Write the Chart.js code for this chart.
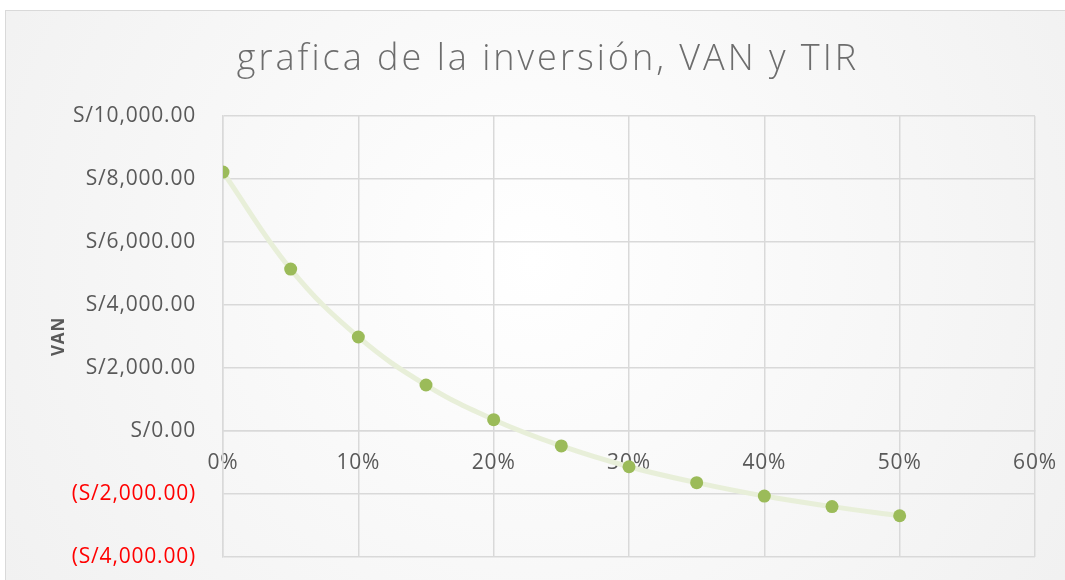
<!DOCTYPE html>
<html>
<head>
<meta charset="utf-8">
<script src="https://cdn.jsdelivr.net/npm/chart.js@4/dist/chart.umd.min.js"></script>
<style>
  html, body { margin: 0; padding: 0; background: #fff; }
  #wrap { width: 1065px; height: 580px; }
</style>
</head>
<body>
<div id="wrap"><canvas id="vanChart" width="1065" height="580"></canvas></div>
<script>
// tasas de descuento y VAN
const tasas = [0, 0.05, 0.10, 0.15, 0.20, 0.25, 0.30, 0.35, 0.40, 0.45, 0.50];
const van = [8220, 5140, 2985, 1460, 360, -475, -1135, -1640, -2065, -2400, -2690];
const yTicks = [-4000, -2000, 0, 2000, 4000, 6000, 8000, 10000];
const xTicks = [0, 0.1, 0.2, 0.3, 0.4, 0.5, 0.6];
const titulo = 'grafica de la inversión, VAN y TIR';

function soles(v) {
    const s = 'S/' + Math.abs(v).toLocaleString('en-US', { minimumFractionDigits: 2, maximumFractionDigits: 2 });
    return v < 0 ? '(' + s + ')' : s;
}

// fondo gris degradado y titulo con espaciado
const fondo = {
    id: 'fondo',
    beforeDraw(chart) {
        const c = chart.ctx;
        const w = chart.width, h = chart.height;
        c.save();
        c.fillStyle = '#fff';
        c.fillRect(0, 0, w, h);
        const g = c.createRadialGradient(w * 0.5, h * 0.45, 0, w * 0.5, h * 0.45, w * 0.62);
        g.addColorStop(0, '#ffffff');
        g.addColorStop(1, '#f0f0f0');
        c.fillStyle = g;
        c.fillRect(5, 10, w - 5, h - 10);
        c.strokeStyle = '#d9d9d9';
        c.lineWidth = 1;
        c.strokeRect(5.5, 10.5, w, h);

        c.font = '300 36px "Open Sans"';
        c.letterSpacing = '3px';
        c.fillStyle = '#6d6d6d';
        c.textAlign = 'center';
        c.textBaseline = 'middle';
        c.fillText(titulo, 548, 60);
        c.restore();
        // un poco de espaciado para las etiquetas de los ejes
        c.letterSpacing = '0.8px';
    }
};

const ctx = document.getElementById('vanChart');
new Chart(ctx, {
    type: 'line',
    data: {
        datasets: [{
            label: 'VAN',
            data: tasas.map((t, i) => ({ x: t, y: van[i] })),
            borderColor: '#e8efd9',
            borderWidth: 5,
            tension: 0.4,
            pointRadius: 6.5,
            pointBackgroundColor: '#9bbb59',
            pointBorderColor: '#9bbb59',
            pointBorderWidth: 0,
            fill: false
        }]
    },
    options: {
        responsive: false,
        animation: false,
        layout: { padding: { left: 49, right: 30, top: 116, bottom: 23 } },
        scales: {
            x: {
                type: 'linear',
                min: 0,
                max: 0.6,
                position: { y: 0 },
                afterBuildTicks: axis => { axis.ticks = xTicks.map(v => ({ value: v })); },
                afterFit: axis => {
                    axis.height = 0;
                    axis.paddingLeft = axis.paddingRight = axis.paddingTop = axis.paddingBottom = 0;
                },
                ticks: {
                    callback: v => Math.round(v * 100) + '%',
                    color: '#595959',
                    font: { family: 'Open Sans', size: 21 },
                    padding: 19,
                    maxRotation: 0
                },
                grid: { color: '#d9d9d9', lineWidth: 1.5, tickLength: 0 },
                border: { color: '#d9d9d9', width: 1.5 }
            },
            y: {
                min: -4000,
                max: 10000,
                afterBuildTicks: axis => { axis.ticks = yTicks.map(v => ({ value: v })); },
                afterFit: axis => {
                    axis.width = 174;
                    axis.paddingTop = axis.paddingBottom = 0;
                },
                ticks: {
                    callback: v => soles(v),
                    color: c => c.tick.value < 0 ? '#ff0000' : '#595959',
                    font: { family: 'Open Sans', size: 21 },
                    padding: 27
                },
                title: {
                    display: true,
                    text: 'VAN',
                    color: '#595959',
                    font: { family: 'Open Sans', size: 17, weight: 'bold' },
                    padding: 0
                },
                grid: { color: '#d9d9d9', lineWidth: 1.5, tickLength: 0 },
                border: { color: '#d9d9d9', width: 1.5 }
            }
        },
        plugins: {
            legend: { display: false },
            tooltip: { enabled: false },
            title: { display: false }
        }
    },
    plugins: [fondo]
});
</script>
</body>
</html>
